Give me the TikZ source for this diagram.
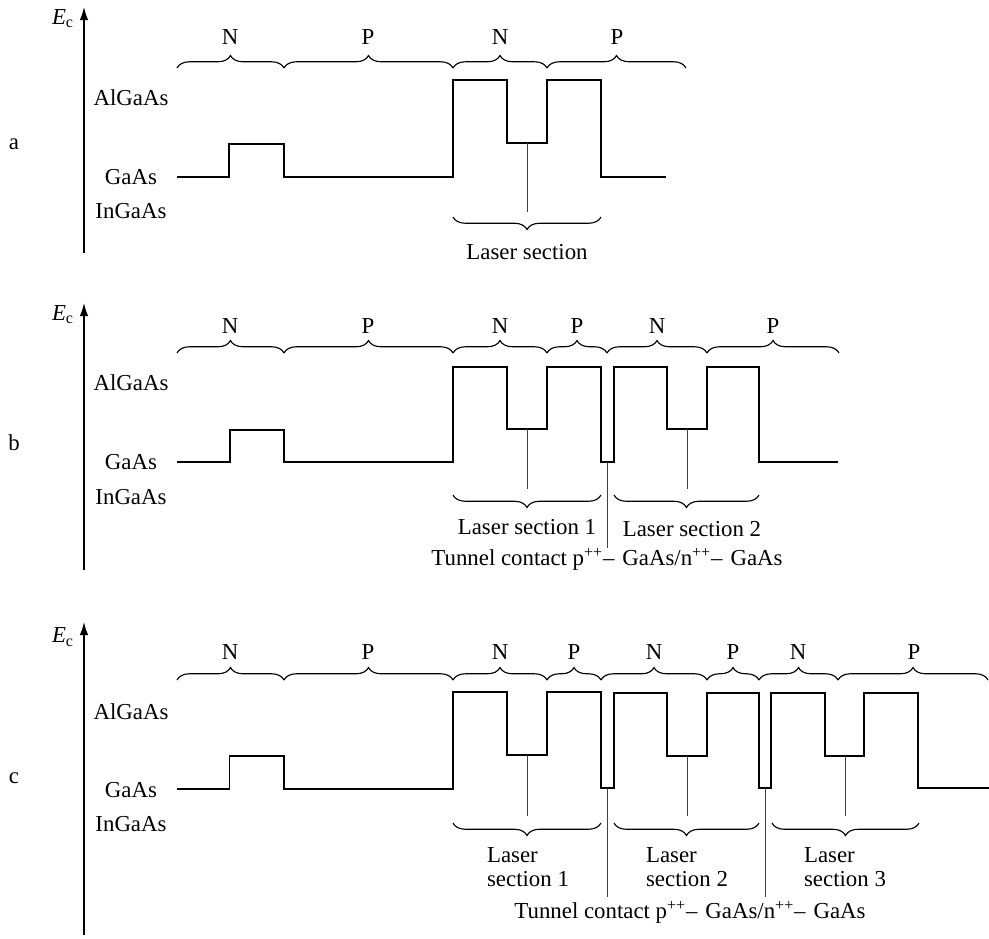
\documentclass[tikz,border=0pt]{standalone}
\usepackage{fontspec}
\setmainfont{Liberation Serif}
\usetikzlibrary{arrows.meta,decorations.pathreplacing}

\begin{document}
\begin{tikzpicture}[
        x=0.02cm, y=-0.02cm,
        font=\fontsize{13}{13.6}\selectfont,
        band/.style={line width=1.1pt, line join=miter},
        axis/.style={line width=0.8pt, -{Latex[length=0.26cm,width=0.17cm]}},
        pointer/.style={line width=0.5pt, black!75},
        layerbrace/.style={decorate, decoration={brace, amplitude=0.25cm}, line width=0.65pt},
        sectionbrace/.style={decorate, decoration={brace, mirror, amplitude=0.25cm}, line width=0.65pt},
        label/.style={inner sep=0pt},
    ]
        \useasboundingbox (0,0) rectangle (989,938);

        % (a) single laser section
        \coordinate (axisA0) at (84,253);
        \coordinate (axisA1) at (84,7);
        \draw[axis] (axisA0) -- (axisA1);
        \node (EcA) [label] at (63,19) {\textit{E}\textsubscript{c}};
        \node (tagA) [label] at (14,144) {a};
        \node (algaasA) [label] at (131,98) {AlGaAs};
        \node (gaasA) [label] at (131,177) {GaAs};
        \node (ingaasA) [label] at (131,211) {InGaAs};

        \draw[band] (177,177) -- (229,177) -- (229,144) -- (284,144) -- (284,177) -- (453,177)
            -- (453,80) -- (507,80) -- (507,143) -- (547,143) -- (547,80) -- (601,80) -- (601,177) -- (666,177);

        \draw[layerbrace] (177,68) -- (284,68);
        \draw[layerbrace] (284,68) -- (453,68);
        \draw[layerbrace] (453,68) -- (547,68);
        \draw[layerbrace] (547,68) -- (686,68);
        \node (nA1) [label] at (230,37) {N};
        \node (pA1) [label] at (368,37) {P};
        \node (nA2) [label] at (500,37) {N};
        \node (pA2) [label] at (617,37) {P};

        \coordinate (wellA) at (527,143);
        \coordinate (wellAend) at (527,212);
        \draw[pointer] (wellA) -- (wellAend);
        \draw[sectionbrace] (453,217) -- (601,217);
        \node (laserA) [label] at (527,252) {Laser section};

        % (b) two laser sections
        \coordinate (axisB0) at (84,570);
        \coordinate (axisB1) at (84,303);
        \draw[axis] (axisB0) -- (axisB1);
        \node (EcB) [label] at (63,315) {\textit{E}\textsubscript{c}};
        \node (tagB) [label] at (14,443) {b};
        \node (algaasB) [label] at (131,383) {AlGaAs};
        \node (gaasB) [label] at (131,462) {GaAs};
        \node (ingaasB) [label] at (131,497) {InGaAs};

        \draw[band] (177,462) -- (230,462) -- (230,430) -- (284,430) -- (284,462) -- (453,462)
            -- (453,367) -- (507,367) -- (507,429) -- (547,429) -- (547,367) -- (601,367) -- (601,462)
            -- (614,462) -- (614,367) -- (667,367) -- (667,429) -- (707,429) -- (707,367) -- (759,367)
            -- (759,462) -- (838,462);

        \draw[layerbrace] (177,353) -- (284,353);
        \draw[layerbrace] (284,353) -- (453,353);
        \draw[layerbrace] (453,353) -- (547,353);
        \draw[layerbrace] (547,353) -- (607,353);
        \draw[layerbrace] (607,353) -- (707,353);
        \draw[layerbrace] (707,353) -- (839,353);
        \node (nB1) [label] at (230,326) {N};
        \node (pB1) [label] at (368,326) {P};
        \node (nB2) [label] at (500,326) {N};
        \node (pB2) [label] at (577,326) {P};
        \node (nB3) [label] at (657,326) {N};
        \node (pB3) [label] at (773,326) {P};

        \coordinate (wellB1) at (527,429);
        \coordinate (wellB1end) at (527,489);
        \coordinate (wellB2) at (687,429);
        \coordinate (wellB2end) at (687,489);
        \coordinate (tunnelB) at (607,462);
        \coordinate (tunnelBend) at (607,548);
        \draw[pointer] (wellB1) -- (wellB1end);
        \draw[pointer] (wellB2) -- (wellB2end);
        \draw[pointer] (tunnelB) -- (tunnelBend);
        \draw[sectionbrace] (453,495) -- (601,495);
        \draw[sectionbrace] (614,495) -- (759,495);
        \node (laserB1) [label] at (527,527) {Laser section 1};
        \node (laserB2) [label] at (692,529) {Laser section 2};
        \node (contactB) [label,anchor=base] at (607,565) {Tunnel contact p\textsuperscript{++}–\hspace{0.35em}GaAs/n\textsuperscript{++}–\hspace{0.35em}GaAs};

        % (c) three laser sections
        \coordinate (axisC0) at (84,935);
        \coordinate (axisC1) at (84,622);
        \draw[axis] (axisC0) -- (axisC1);
        \node (EcC) [label] at (63,637) {\textit{E}\textsubscript{c}};
        \node (tagC) [label] at (14,778) {c};
        \node (algaasC) [label] at (131,712) {AlGaAs};
        \node (gaasC) [label] at (131,790) {GaAs};
        \node (ingaasC) [label] at (131,824) {InGaAs};

        \draw[band] (177,789) -- (229.5,789) -- (229.5,756) -- (284,756) -- (284,789) -- (453,789)
            -- (453,692) -- (507,692) -- (507,755) -- (547,755) -- (547,692) -- (601,692) -- (601,788)
            -- (614,788) -- (614,693) -- (667,693) -- (667,756) -- (707,756) -- (707,693) -- (759,693)
            -- (759,788) -- (771,788) -- (771,693) -- (825,693) -- (825,756) -- (864,756) -- (864,693)
            -- (918,693) -- (918,788) -- (989,788);

        \draw[layerbrace] (177,680) -- (284,680);
        \draw[layerbrace] (284,680) -- (453,680);
        \draw[layerbrace] (453,680) -- (547,680);
        \draw[layerbrace] (547,680) -- (601,680);
        \draw[layerbrace] (601,680) -- (707,680);
        \draw[layerbrace] (707,680) -- (759,680);
        \draw[layerbrace] (759,680) -- (838,680);
        \draw[layerbrace] (838,680) -- (988,680);
        \node (nC1) [label] at (230,652) {N};
        \node (pC1) [label] at (368,652) {P};
        \node (nC2) [label] at (500,652) {N};
        \node (pC2) [label] at (574,652) {P};
        \node (nC3) [label] at (654,652) {N};
        \node (pC3) [label] at (733,652) {P};
        \node (nC4) [label] at (798,652) {N};
        \node (pC4) [label] at (914,652) {P};

        \coordinate (wellC1) at (527,755);
        \coordinate (wellC1end) at (527,816);
        \coordinate (wellC2) at (687,756);
        \coordinate (wellC2end) at (687,816);
        \coordinate (wellC3) at (845,756);
        \coordinate (wellC3end) at (845,816);
        \coordinate (tunnelC1) at (607,788);
        \coordinate (tunnelC1end) at (607,897);
        \coordinate (tunnelC2) at (765,788);
        \coordinate (tunnelC2end) at (765,897);
        \draw[pointer] (wellC1) -- (wellC1end);
        \draw[pointer] (wellC2) -- (wellC2end);
        \draw[pointer] (wellC3) -- (wellC3end);
        \draw[pointer] (tunnelC1) -- (tunnelC1end);
        \draw[pointer] (tunnelC2) -- (tunnelC2end);
        \draw[sectionbrace] (453,823) -- (601,823);
        \draw[sectionbrace] (614,823) -- (759,823);
        \draw[sectionbrace] (772,823) -- (919,823);
        \node (laserC1) [label,align=left] at (528,867) {Laser\\section 1};
        \node (laserC2) [label,align=left] at (687,867) {Laser\\section 2};
        \node (laserC3) [label,align=left] at (845,867) {Laser\\section 3};
        \node (contactC) [label,anchor=base] at (690,918) {Tunnel contact p\textsuperscript{++}–\hspace{0.35em}GaAs/n\textsuperscript{++}–\hspace{0.35em}GaAs};

    \end{tikzpicture}
\end{document}
